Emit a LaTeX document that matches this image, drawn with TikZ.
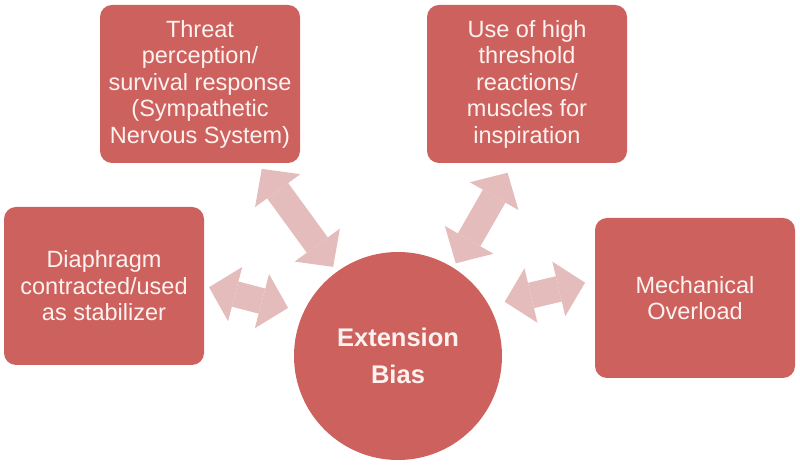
\documentclass[tikz,border=0pt]{standalone}
\usepackage{fontspec}
\setmainfont{Liberation Sans}
\usetikzlibrary{arrows.meta}
\definecolor{boxred}{RGB}{205,97,93}
\definecolor{linkpink}{RGB}{228,188,187}
\definecolor{txtwhite}{RGB}{254,242,240}

\begin{document}
\begin{tikzpicture}
  [x=1pt,y=1pt,
   box/.style={rectangle,rounded corners=12pt,fill=boxred,text=txtwhite,align=center,
     font=\fontsize{23.5}{26.5}\selectfont,minimum width=200pt,minimum height=158pt,inner sep=0pt},
   hub/.style={circle,fill=boxred,text=txtwhite,align=center,minimum size=208pt,inner sep=0pt,
     font=\fontsize{25.5}{37}\selectfont\bfseries},
   link/.style={draw=linkpink,line width=26pt,
     {Triangle[width=56pt,length=27pt,line width=0pt]}-{Triangle[width=56pt,length=27pt,line width=0pt]}}]
  \useasboundingbox (0,0) rectangle (800,465);

  \node[hub] (bias) at (398,109) {Extension\\Bias};
  \node[box] (threat) at (200,381) {Threat\\perception/\\survival response\\(Sympathetic\\Nervous System)};
  \node[box] (inspire) at (527,381) {Use of high\\threshold\\reactions/\\muscles for\\inspiration};
  \node[box] (diaphragm) at (104,179) {Diaphragm\\contracted/used\\as stabilizer};
  \node[box,minimum height=160pt] (overload) at (695,167) {Mechanical\\Overload};

  \draw[link,shorten <=7pt,shorten >=6pt] (threat) -- (bias);
  \draw[link,shorten <=11pt,shorten >=5pt] (inspire.-100) -- (bias.58);
  \draw[link,shorten <=5pt,shorten >=16pt] (diaphragm.east) -- (bias.155);
  \draw[link,shorten <=16pt,shorten >=10pt] (bias.29) -- (overload.170);

\end{tikzpicture}
\end{document}
